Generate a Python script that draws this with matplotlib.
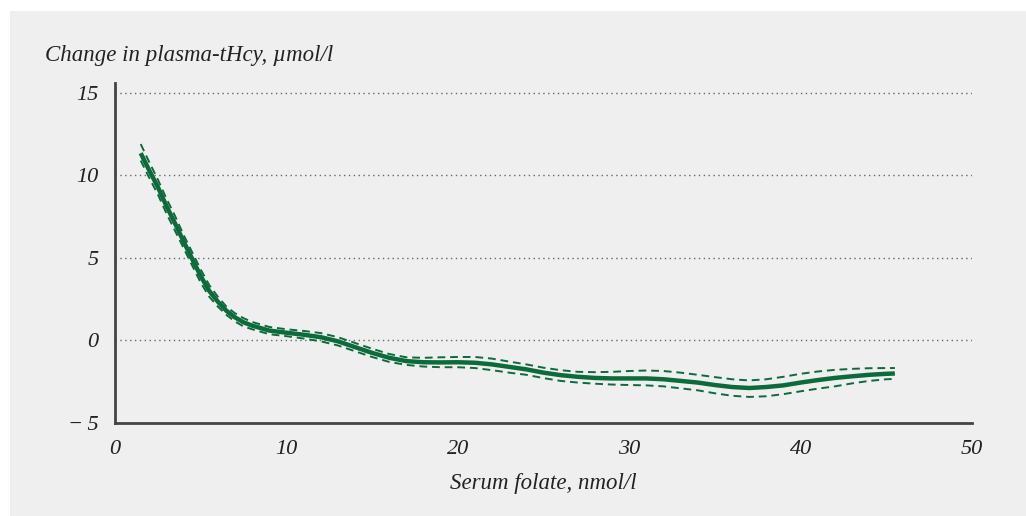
import matplotlib.pyplot as plt
from matplotlib.patches import Rectangle

# serum folate (nmol/l)
folate = [1.5, 2, 2.5, 3, 3.5, 4, 4.5, 5, 5.5, 6, 6.5, 7, 7.5, 8, 9, 10, 11, 12, 13, 14,
          15, 16, 17, 18, 19, 20, 21, 22, 23, 24, 25, 26, 27, 28, 29, 30, 31, 32, 33, 34,
          35, 36, 37, 38, 39, 40, 41, 42, 43, 44, 45, 45.5]

# change in plasma-tHcy, estimate
change = [11.35, 10.3, 9.3, 8.15, 7.1, 6.0, 4.95, 3.9, 3.0, 2.35, 1.8, 1.4, 1.1, 0.9, 0.6,
          0.47, 0.35, 0.2, -0.05, -0.4, -0.75, -1.05, -1.25, -1.32, -1.33, -1.32, -1.35,
          -1.45, -1.6, -1.75, -1.95, -2.1, -2.2, -2.27, -2.3, -2.3, -2.3, -2.35, -2.45,
          -2.55, -2.7, -2.82, -2.88, -2.82, -2.72, -2.55, -2.4, -2.27, -2.17, -2.08, -2.02, -2.0]

# confidence band
upper = [11.9, 10.8, 9.75, 8.6, 7.55, 6.4, 5.35, 4.3, 3.35, 2.65, 2.05, 1.65, 1.35, 1.12, 0.82,
         0.68, 0.58, 0.45, 0.2, -0.15, -0.5, -0.82, -1.02, -1.05, -1.02, -1.0, -1.0, -1.1,
         -1.28, -1.45, -1.65, -1.8, -1.9, -1.92, -1.9, -1.85, -1.82, -1.85, -1.95, -2.08,
         -2.22, -2.35, -2.42, -2.35, -2.2, -2.02, -1.88, -1.78, -1.72, -1.68, -1.67, -1.67]
lower = [10.9, 9.85, 8.85, 7.7, 6.65, 5.6, 4.55, 3.5, 2.65, 2.05, 1.55, 1.15, 0.85, 0.68, 0.38,
         0.26, 0.12, -0.05, -0.3, -0.65, -1.0, -1.3, -1.48, -1.58, -1.62, -1.62, -1.67, -1.8,
         -1.95, -2.08, -2.28, -2.45, -2.55, -2.62, -2.67, -2.7, -2.72, -2.78, -2.9, -3.02,
         -3.2, -3.35, -3.42, -3.38, -3.25, -3.08, -2.92, -2.78, -2.6, -2.45, -2.35, -2.33]

xticks = [0, 10, 20, 30, 40, 50]
yticks = [-5, 0, 5, 10, 15]

green = '#0b6b3a'
bg = '#efefef'
font = dict(family='Liberation Serif', style='italic', color='#222222')

fig = plt.figure(figsize=(10.26, 5.16), dpi=100)
fig.patch.set_facecolor('white')
fig.patches.append(Rectangle((10 / 1026, 0), 1, 1 - 11 / 516, transform=fig.transFigure,
                             facecolor=bg, edgecolor='none', zorder=-5))

ax = fig.add_axes([115 / 1026, 1 - 423 / 516, (972 - 115) / 1026, (423 - 83) / 516])
ax.set_facecolor('none')
ax.set_zorder(2)

# dotted gridlines
for yv in yticks[1:]:
    ax.plot([0, 50], [yv, yv], color='#666666', lw=1.0, ls=(0, (1, 2.5)), zorder=1)

ax.plot(folate, upper, color=green, lw=1.4, ls=(0, (4, 2.5)), zorder=2)
ax.plot(folate, lower, color=green, lw=1.4, ls=(0, (4, 2.5)), zorder=2)
ax.plot(folate, change, color=green, lw=3.2, solid_capstyle='butt', zorder=3)

ax.set_xlim(0, 50)
ax.set_ylim(-5, 15.6)
ax.set_xticks(xticks)
ax.set_yticks(yticks)
ax.set_xticklabels([str(t) for t in xticks], fontdict=font, fontsize=16)
ax.set_yticklabels([str(t).replace('-', '\u2212\u2009') for t in yticks], fontdict=font, fontsize=16)
ax.tick_params(axis='x', length=0, pad=12)
ax.tick_params(axis='y', length=0, pad=12)
for s in ['top', 'right']:
    ax.spines[s].set_visible(False)
for s in ['left', 'bottom']:
    ax.spines[s].set_color('#444444')
    ax.spines[s].set_linewidth(2)

fig.text(45 / 1026, 1 - 56 / 516, 'Change in plasma-tHcy, \u00b5mol/l', fontsize=16.5,
         va='center', ha='left', **font)
fig.text(543 / 1026, 1 - 484 / 516, 'Serum folate, nmol/l', fontsize=16.5,
         va='center', ha='center', **font)

fig.savefig('out.png', dpi=100)
